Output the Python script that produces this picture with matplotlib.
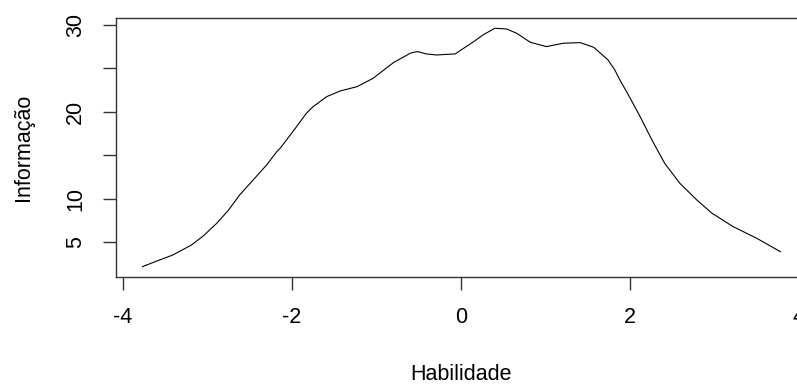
import matplotlib
matplotlib.use("Agg")
import matplotlib.pyplot as plt

plt.rcParams["font.family"] = ["Liberation Sans", "DejaVu Sans"]
plt.rcParams["axes.unicode_minus"] = False

# Test information curve over the ability scale
habilidade = [-3.77, -3.62, -3.41, -3.19, -3.05, -2.89, -2.75, -2.62, -2.46,
              -2.30, -2.18, -2.14, -1.96, -1.83, -1.75, -1.67, -1.59, -1.43,
              -1.35, -1.23, -1.04, -0.80, -0.60, -0.56, -0.51, -0.41, -0.29,
              -0.15, -0.07, 0.15, 0.26, 0.40, 0.54, 0.66, 0.82, 1.01, 1.21,
              1.41, 1.57, 1.74, 1.82, 1.88, 1.96, 2.12, 2.26,
              2.41, 2.59, 2.79, 2.97, 3.22, 3.50, 3.78]
informacao = [2.22, 2.79, 3.56, 4.71, 5.75, 7.21, 8.74, 10.46, 12.18,
              13.91, 15.44, 15.83, 18.13, 19.85, 20.61, 21.18, 21.76, 22.41,
              22.61, 22.91, 23.87, 25.67, 26.75, 26.86, 26.93, 26.67, 26.55,
              26.63, 26.67, 28.08, 28.85, 29.62, 29.54, 29.04, 28.01, 27.51, 27.90,
              27.97, 27.44, 25.98, 24.83, 23.68, 22.33, 19.46, 16.78,
              14.10, 11.80, 9.89, 8.36, 6.82, 5.48, 3.94]

x_ticks = [-4, -2, 0, 2, 4]
x_tick_labels = ["-4", "-2", "0", "2", "4"]
y_ticks = [5, 10, 15, 20, 25, 30]
y_tick_labels = ["5", "10", "", "20", "", "30"]

W, H, DPI = 797, 385, 100
fig = plt.figure(figsize=(W / DPI, H / DPI), dpi=DPI)
ax = fig.add_axes([116 / W, 108 / H, 690 / W, 259 / H])

ax.plot(habilidade, informacao, color="black", linewidth=0.8)

ax.set_xlim(-4.083, 4.083)
ax.set_ylim(1.03, 30.80)

fs = 15.5
ax.set_xticks(x_ticks)
ax.set_xticklabels(x_tick_labels, fontsize=fs)
ax.set_yticks(y_ticks)
ax.set_yticklabels(y_tick_labels, fontsize=fs, rotation=90, va="center", ha="right")
ax.tick_params(axis="both", direction="out", length=9.4, width=1.0, color="#333333")
ax.tick_params(axis="x", pad=12)
ax.tick_params(axis="y", pad=12)

for s in ax.spines.values():
    s.set_linewidth(1.0)
    s.set_color("#333333")

ax.set_xlabel("Habilidade", fontsize=fs, va="center")
ax.xaxis.set_label_coords(0.5, (277 - 374) / 259)
ax.set_ylabel("Informação", fontsize=fs, va="center")
ax.yaxis.set_label_coords((24 - 116) / 690, 0.5)

fig.savefig("out.png", dpi=DPI)
